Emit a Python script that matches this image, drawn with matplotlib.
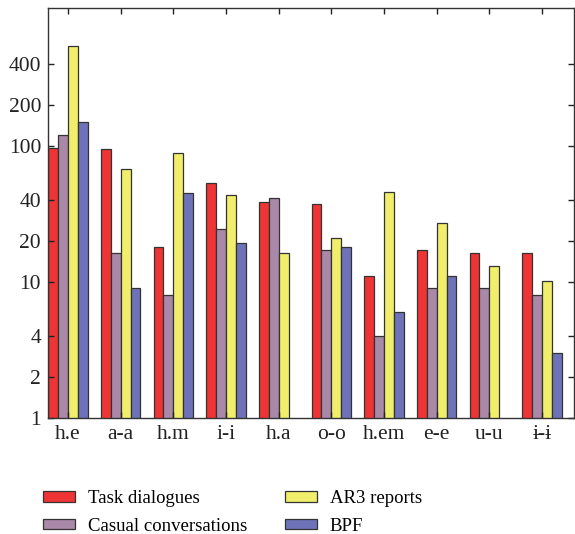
import numpy as np
import matplotlib.pyplot as plt
from matplotlib.ticker import FixedLocator, NullLocator

plt.rcParams['font.family'] = ['Liberation Serif', 'DejaVu Serif']

labels = ['h.e', 'a-a', 'h.m', 'i-i', 'h.a', 'o-o', 'h.em', 'e-e', 'u-u', 'ɨ-ɨ']
task = [97, 95, 18.1, 53.5, 38.7, 37.5, 11.1, 17.2, 16.3, 16.3]
casual = [120, 16.3, 8.0, 24.5, 41.5, 17.2, 4.0, 9.0, 9.0, 8.0]
ar3 = [543, 68, 89, 43.6, 16.3, 21, 45.9, 27.2, 13.1, 10.2]
bpf = [150, 9.0, 45, 19.4, np.nan, 18.1, 6.0, 11.1, np.nan, 3.0]

series = [task, casual, ar3, bpf]
names = ['Task dialogues', 'Casual conversations', 'AR3 reports', 'BPF']
colors = ['#EE3434', '#A988A8', '#F0EE6A', '#6D72B9']

fig = plt.figure(figsize=(5.75, 5.34), dpi=100)
ax = fig.add_axes([0.0835, 0.217, 0.914, 0.768])

x = np.arange(len(labels))
w = 0.1875
for i in range(4):
    ax.bar(x + (i - 1.5) * w, series[i], w, color=colors[i],
           edgecolor='#333333', linewidth=0.9, label=names[i])

ax.set_yscale('log')
ax.set_ylim(1, 1030)
ax.set_xlim(-0.38, 9.6)
yt = [1, 2, 4, 10, 20, 40, 100, 200, 400]
ax.yaxis.set_major_locator(FixedLocator(yt))
ax.yaxis.set_minor_locator(NullLocator())
ax.set_yticklabels([str(v) for v in yt])
ax.set_xticks(x)
ax.set_xticklabels(labels)
ax.tick_params(direction='in', length=4, width=1, top=True, right=True,
               labelsize=15.5, colors='#222222', pad=5)
for s in ax.spines.values():
    s.set_color('#333333')
    s.set_linewidth(1)

fig.legend(loc='upper left', bbox_to_anchor=(0.075, 0.082), ncol=2, frameon=False,
           fontsize=13.5, handlelength=1.7, handleheight=0.48, handletextpad=0.7,
           columnspacing=2.0, labelspacing=0.55, borderpad=0, borderaxespad=0)

fig.savefig('out.png', dpi=100)
